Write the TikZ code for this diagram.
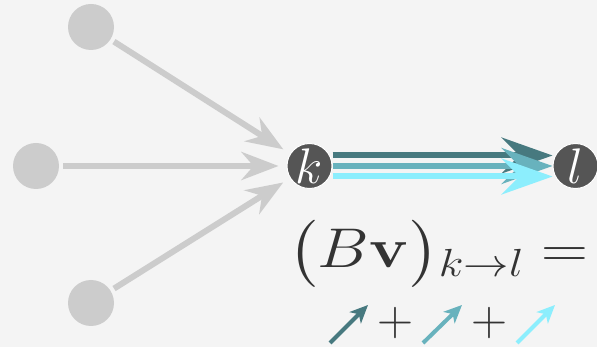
\RequirePackage{fix-cm}
\documentclass[tikz,border=0pt]{standalone}
\usepackage{amsmath,amssymb}
\usepackage{graphicx}
\usepackage{xcolor}
\usetikzlibrary{arrows.meta}

\definecolor{bgcol}{HTML}{F4F4F4}
\definecolor{faded}{HTML}{CCCCCC}
\definecolor{vertcol}{HTML}{555555}
\definecolor{tealA}{HTML}{47797F}
\definecolor{tealB}{HTML}{68B2BD}
\definecolor{tealC}{HTML}{8CEEFD}
\definecolor{ink}{HTML}{333333}

\tikzset{
  ghost/.style={circle,fill=faded,minimum size=46pt,inner sep=0pt},
  vert/.style={circle,fill=vertcol,draw=white,line width=1pt,minimum size=45pt,
    inner sep=0pt,text=white,font=\fontsize{50}{54}\selectfont},
  inflow/.style={draw=faded,line width=6pt,shorten >=8pt,shorten <=4pt,
    -{Stealth[length=37pt,width=28pt,inset=12pt]}},
  outflow/.style={line width=6pt,-{Stealth[length=51pt,width=36pt,inset=18pt]}},
  mini/.style={line width=4pt,-{Stealth[length=18pt,width=16pt,inset=5pt]}},
  big/.style={text=ink,font=\fontsize{56}{60}\selectfont,inner sep=0pt},
  plussign/.style={text=ink,font=\fontsize{50}{54}\selectfont}
}

\begin{document}
\begin{tikzpicture}[x=1pt,y=-1pt]
  \fill[bgcol] (0,0) rectangle (597,347);
  \useasboundingbox (0,0) rectangle (597,347);

  % incoming neighbours
  \node[ghost] (n1) at (91,27) {};
  \node[ghost] (n2) at (36,166) {};
  \node[ghost] (n3) at (91,303) {};
  \node[vert] (k) at (309.5,166) {$k$};
  \node[vert] (l) at (575.5,166) {$l$};

  \draw[inflow] (n1) -- (k);
  \draw[inflow] (n2) -- (k);
  \draw[inflow] (n3) -- (k);

  % the three summed messages
  \draw[outflow,tealA] ([yshift=10.5pt]k.east) -- ([yshift=10.5pt]l.west);
  \draw[outflow,tealB] (k.east) -- (l.west);
  \draw[outflow,tealC] ([yshift=-10.5pt]k.east) -- ([yshift=-10.5pt]l.west);

  \node[big,anchor=base west] (flow) at (288,268)
    {\scalebox{1.16}[1]{$\bigl(B\mathbf{v}\bigr){}_{k\to l} =$}};

  \coordinate (s1) at (330,343); \coordinate (e1) at (368,305);
  \coordinate (s2) at (423,343); \coordinate (e2) at (462,305);
  \coordinate (s3) at (517,343); \coordinate (e3) at (555,305);
  \draw[mini,tealA] (s1) -- (e1);
  \node[plussign] (plus1) at (395,323) {$+$};
  \draw[mini,tealB] (s2) -- (e2);
  \node[plussign] (plus2) at (489,323) {$+$};
  \draw[mini,tealC] (s3) -- (e3);
\end{tikzpicture}
\end{document}
